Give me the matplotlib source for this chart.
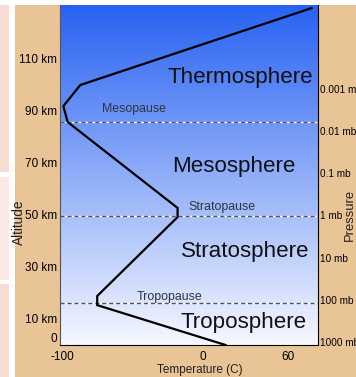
import numpy as np
import matplotlib
matplotlib.use('Agg')
import matplotlib.pyplot as plt
from matplotlib.patches import Rectangle
from matplotlib import font_manager as fm
from matplotlib.colors import LinearSegmentedColormap

# temperature profile (deg C vs km)
temp_c = [16, -75, -75, -18, -18, -96, -99, -87, 77]
alt_km = [0, 15.3, 18.8, 49.1, 52.6, 85.6, 91.7, 99.8, 129.3]

pause_names = ['Tropopause', 'Stratopause', 'Mesopause']
pause_km = [16.1, 49.5, 85.6]

layer_names = ['Troposphere', 'Stratosphere', 'Mesosphere', 'Thermosphere']

alt_ticks = [0, 10, 30, 50, 70, 90, 110]
alt_labels = ['0', '10 km', '30 km', '50 km', '70 km', '90 km', '110 km']
temp_ticks = [-100, 0, 60]
pres_ticks = [1000, 100, 10, 1, 0.1, 0.01, 0.001]
pres_labels = ['1000 mb', '100 mb', '10 mb', '1 mb', '0.1 mb', '0.01 mb', '0.001 mb']

# narrow font if we have one, otherwise shrink the regular one
names = {f.name for f in fm.fontManager.ttflist}
if 'Liberation Sans Narrow' in names:
    FONT, k = 'Liberation Sans Narrow', 1.0
else:
    FONT, k = 'Liberation Sans', 0.85
plt.rcParams['font.family'] = [FONT, 'DejaVu Sans']
plt.rcParams['axes.unicode_minus'] = False

W, H = 356, 377
fig = plt.figure(figsize=(W / 100, H / 100), dpi=100, facecolor='white')


def fx(x):
    return x / W


def fy(y):
    return 1 - y / H


def block(x0, y0, x1, y1, color):
    fig.add_artist(Rectangle((fx(x0), fy(y1)), (x1 - x0) / W, (y1 - y0) / H,
                             transform=fig.transFigure, color=color, lw=0, zorder=0))


# page background pieces
block(0, 5, 9, 172, '#f8dcd4')
block(0, 177, 9, 280, '#fbe9e5')
block(0, 284, 9, 377, '#f8dcd4')
block(15, 5, 356, 377, '#e8c496')

ax = fig.add_axes([fx(60), fy(345), 258 / W, 340 / H])
xlim = (-101.4, 81.6)
ylim = (0, 130.5)

# sky gradient
grad = np.linspace(0, 1, 256).reshape(-1, 1)
sky = LinearSegmentedColormap.from_list('sky', ['#f6f8ff', '#2862f2'])
ax.imshow(grad, extent=[xlim[0], xlim[1], ylim[0], ylim[1]], origin='lower',
          aspect='auto', cmap=sky, zorder=0)

for y in pause_km:
    ax.axhline(y, color='white', lw=1, zorder=1)
    ax.axhline(y, color='#505560', lw=1, dashes=(3, 2), zorder=1)

ax.plot(temp_c, alt_km, color='black', lw=1.6, zorder=3, solid_joinstyle='miter')

ax.set_xlim(xlim)
ax.set_ylim(ylim)
ax.set_xticks(temp_ticks)
ax.set_yticks(alt_ticks)
ax.set_yticklabels(alt_labels)
ax.tick_params(length=0, labelsize=10 * k)
ax.tick_params(axis='y', pad=2)
ax.tick_params(axis='x', pad=4.5)
ax.get_yticklabels()[0].set_verticalalignment('bottom')
ax.spines['top'].set_visible(False)
ax.spines['right'].set_visible(False)
ax.spines['left'].set_color('#555555')
ax.spines['bottom'].set_color('black')

# pressure on the right
ax2 = ax.twinx()
ax2.set_yscale('log')
ax2.set_ylim(1178, 1.03e-5)
ax2.set_yticks(pres_ticks)
ax2.set_yticklabels(pres_labels)
ax2.minorticks_off()
ax2.tick_params(length=0, labelsize=8.5 * k, pad=1.2)
for s in ['top', 'left', 'bottom']:
    ax2.spines[s].set_visible(False)
ax2.spines['right'].set_color('black')

# layer names
big = 19 * k
ax.text(-24.8, 100.5, layer_names[3], fontsize=big, color='#111111', va='baseline', zorder=4)
ax.text(-22.0, 66.4, layer_names[2], fontsize=big, color='#111111', va='baseline', zorder=4)
ax.text(-15.6, 33.8, layer_names[1], fontsize=big, color='#111111', va='baseline', zorder=4)
ax.text(-15.6, 6.5, layer_names[0], fontsize=big, color='#111111', va='baseline', zorder=4)

# pause names
small = 10.5 * k
ax.text(-71.6, 89.4, pause_names[2], fontsize=small, color='#30343c', va='baseline', zorder=4)
ax.text(-10.6, 51.8, pause_names[1], fontsize=small, color='#30343c', va='baseline', zorder=4)
ax.text(-46.8, 17.3, pause_names[0], fontsize=small, color='#30343c', va='baseline', zorder=4)

# axis titles
fig.text(fx(19), fy(222), 'Altitude', rotation=90, fontsize=11.5 * k,
         ha='center', va='center', color='#222222')
fig.text(fx(350), fy(215), 'Pressure', rotation=90, fontsize=11 * k,
         ha='center', va='center', color='#222222')
fig.text(fx(200), fy(370), 'Temperature (C)', fontsize=10 * k,
         ha='center', va='center', color='#222222')

fig.savefig('out.png', dpi=100, facecolor='white')
